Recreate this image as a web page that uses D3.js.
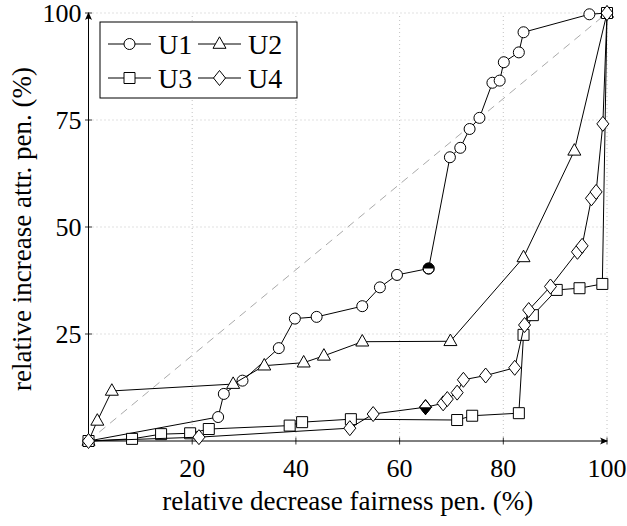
<!DOCTYPE html>
<html lang="en">
<head>
  <meta charset="UTF-8">
  <title>Relative increase vs decrease</title>
  <script src="https://d3js.org/d3.v7.min.js"></script>
  <style>
    body { margin: 0; background: #fff; }
    text { font-family: "Liberation Serif", "DejaVu Serif", serif; fill: #000; }
    .grid line { stroke: #b3b3b3; stroke-width: 0.8px; stroke-dasharray: 1 3; }
    .series path.line { fill: none; stroke: #000; stroke-width: 1px; }
    .mark { fill: #fff; stroke: #000; stroke-width: 1px; }
  </style>
</head>
<body>
<svg width="627" height="526"></svg>
<script>
  // data (percent)
  const xTicks = [20, 40, 60, 80, 100];
  const yTicks = [25, 50, 75, 100];

  const u1X = [0, 25, 26.1, 29.7, 36.7, 39.8, 44, 52.8, 56.2, 59.5, 65.6, 69.7, 71.7, 73.5, 75.4, 77.9, 79.3, 80.1, 83, 83.9, 96.6, 100];
  const u1Y = [0, 5.6, 11, 14.1, 21.7, 28.6, 29, 31.5, 35.9, 38.8, 40.3, 66.3, 68.5, 72.9, 75.5, 83.7, 84.2, 88.5, 90.8, 95.5, 99.7, 100];

  const u2X = [0, 1.7, 4.5, 27.9, 33.9, 41.5, 45.4, 52.8, 69.8, 83.9, 93.7, 100];
  const u2Y = [0, 4.7, 11.7, 13.3, 17.6, 18.3, 19.9, 23.2, 23.3, 42.9, 67.8, 100];

  const u3X = [0, 8.4, 14, 19.6, 23.2, 38.8, 41.2, 50.6, 71.1, 74, 83, 83.9, 85.7, 90.3, 94.7, 99.1, 100];
  const u3Y = [0, 0.5, 1.6, 1.8, 2.8, 3.6, 4.4, 5.1, 4.9, 5.9, 6.5, 24.8, 29.4, 35.3, 35.7, 36.7, 100];

  const u4X = [0, 21.3, 50.4, 54.9, 65, 68.4, 69.2, 71.1, 72.3, 76.6, 82.2, 84.1, 84.9, 89.1, 94.3, 95.2, 97, 97.9, 99.2, 100];
  const u4Y = [0, 0.9, 3, 6.3, 7.9, 8.8, 9.8, 11.3, 14.3, 15.3, 17.1, 27.1, 30.6, 36.1, 44.2, 45.6, 56.7, 58.2, 74.1, 100];

  const series = [
    { name: "U1", shape: "circle", xs: u1X, ys: u1Y, half: 10, halfSide: "top" },
    { name: "U2", shape: "triangle", xs: u2X, ys: u2Y },
    { name: "U3", shape: "square", xs: u3X, ys: u3Y },
    { name: "U4", shape: "diamond", xs: u4X, ys: u4Y, half: 4, halfSide: "bottom" }
  ];

  const svg = d3.select("svg");
  const plotL = 88.5, plotR = 607, plotT = 13, plotB = 441;

  const x = d3.scaleLinear().domain([0, 100]).range([plotL, plotR]);
  const y = d3.scaleLinear().domain([0, 100]).range([plotB, plotT]);

  // dotted grid
  const grid = svg.append("g").attr("class", "grid");
  grid.selectAll(".gx").data(xTicks).enter().append("line")
    .attr("x1", d => x(d)).attr("x2", d => x(d))
    .attr("y1", plotB).attr("y2", plotT);
  grid.selectAll(".gy").data(yTicks).enter().append("line")
    .attr("x1", plotL).attr("x2", plotR)
    .attr("y1", d => y(d)).attr("y2", d => y(d));

  // diagonal reference
  svg.append("line")
    .attr("x1", x(0)).attr("y1", y(0))
    .attr("x2", x(100)).attr("y2", y(100))
    .attr("stroke", "#aaa").attr("stroke-width", 1)
    .attr("stroke-dasharray", "8 6");

  // axes with arrow heads
  const axisG = svg.append("g");
  axisG.append("line").attr("x1", plotL).attr("x2", plotR)
    .attr("y1", plotB).attr("y2", plotB).attr("stroke", "#000").attr("stroke-width", 1);
  axisG.append("line").attr("x1", plotL).attr("x2", plotL)
    .attr("y1", plotB).attr("y2", plotT).attr("stroke", "#000").attr("stroke-width", 1);
  axisG.append("path")
    .attr("d", `M${plotR + 1},${plotB} l-8,-3.5 q3,3.5 0,7 z`).attr("fill", "#000");
  axisG.append("path")
    .attr("d", `M${plotL},${plotT - 1} l-3.5,8 q3.5,-3 7,0 z`).attr("fill", "#000");

  axisG.selectAll(".tx").data(xTicks).enter().append("line")
    .attr("x1", d => x(d)).attr("x2", d => x(d))
    .attr("y1", plotB - 3.5).attr("y2", plotB + 3.5)
    .attr("stroke", "#000").attr("stroke-width", 0.8);
  axisG.selectAll(".ty").data(yTicks).enter().append("line")
    .attr("x1", plotL - 3.5).attr("x2", plotL + 3.5)
    .attr("y1", d => y(d)).attr("y2", d => y(d))
    .attr("stroke", "#000").attr("stroke-width", 0.8);

  axisG.selectAll(".lx").data(xTicks).enter().append("text")
    .attr("x", d => x(d)).attr("y", plotB + 36)
    .attr("text-anchor", "middle").attr("font-size", 26)
    .text(d => d);
  axisG.selectAll(".ly").data(yTicks).enter().append("text")
    .attr("x", plotL - 7).attr("y", d => y(d) + 8.5)
    .attr("text-anchor", "end").attr("font-size", 26)
    .text(d => d);

  svg.append("text")
    .attr("x", (plotL + plotR) / 2).attr("y", 510)
    .attr("text-anchor", "middle").attr("font-size", 27)
    .text("relative decrease fairness pen. (%)");
  svg.append("text")
    .attr("transform", `translate(31,${(plotT + plotB) / 2 + 2}) rotate(-90)`)
    .attr("text-anchor", "middle").attr("font-size", 27)
    .text("relative increase attr. pen. (%)");

  // marker shapes centered at 0,0
  function shapePath(shape) {
    if (shape === "triangle") return "M0,-7.2 L6.5,4.3 L-6.5,4.3 Z";
    if (shape === "square") return "M-5.5,-5.5 H5.5 V5.5 H-5.5 Z";
    if (shape === "diamond") return "M0,-7.5 L6,0 L0,7.5 L-6,0 Z";
    return null;
  }

  function drawMark(g, shape, px, py, half, halfSide) {
    const m = g.append("g").attr("transform", `translate(${px},${py})`);
    if (shape === "circle") {
      m.append("circle").attr("r", 5.5).attr("class", "mark");
      if (half) {
        m.append("path").attr("d", "M-5.5,0 A5.5,5.5 0 0 1 5.5,0 Z").attr("fill", "#000");
        m.append("circle").attr("r", 5.5).attr("fill", "none").attr("stroke", "#000");
      }
    } else {
      m.append("path").attr("d", shapePath(shape)).attr("class", "mark");
      if (half && shape === "diamond") {
        m.append("path").attr("d", halfSide === "bottom" ? "M-6,0 L6,0 L0,7.5 Z" : "M-6,0 L6,0 L0,-7.5 Z")
          .attr("fill", "#000");
        m.append("path").attr("d", shapePath(shape)).attr("fill", "none").attr("stroke", "#000");
      }
    }
  }

  const line = d3.line().x(d => x(d[0])).y(d => y(d[1]));

  series.forEach(s => {
    const pts = s.xs.map((v, i) => [v, s.ys[i]]);
    const g = svg.append("g").attr("class", "series");
    g.append("path").attr("class", "line").attr("d", line(pts));
    pts.forEach((p, i) => drawMark(g, s.shape, x(p[0]), y(p[1]), s.half === i, s.halfSide));
  });

  // legend
  const leg = svg.append("g");
  leg.append("rect").attr("x", 100).attr("y", 22).attr("width", 197).attr("height", 76)
    .attr("fill", "#fff").attr("stroke", "#000").attr("stroke-width", 1);
  series.forEach((s, i) => {
    const col = i % 2, row = Math.floor(i / 2);
    const lx = 108 + col * 90, ly = 44 + row * 34;
    leg.append("line").attr("x1", lx).attr("x2", lx + 43).attr("y1", ly).attr("y2", ly)
      .attr("stroke", "#000").attr("stroke-width", 1);
    drawMark(leg, s.shape, lx + 21.5, ly);
    leg.append("text").attr("x", lx + 50).attr("y", ly + 9.5)
      .attr("font-size", 28).text(s.name);
  });
</script>
</body>
</html>
